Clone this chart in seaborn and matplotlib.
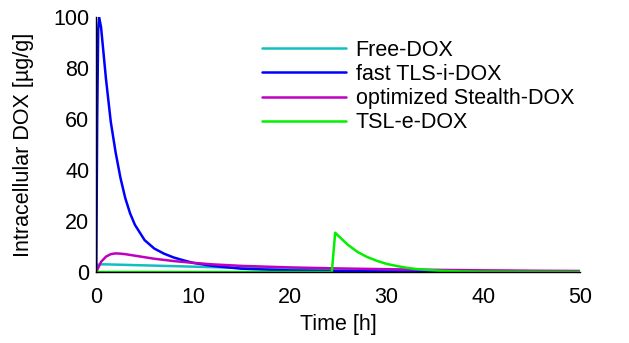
import numpy as np
import pandas as pd
import matplotlib
matplotlib.use("Agg")
import matplotlib.pyplot as plt
import seaborn as sns

# --- data ---
series_names = ["Free-DOX", "fast TLS-i-DOX", "optimized Stealth-DOX", "TSL-e-DOX"]
colors = ["#10C0C0", "#0000FF", "#C000C0", "#00F000"]

free_t = [0, 0.2, 0.5, 1, 2, 3, 5, 8, 10, 12, 15, 20, 25, 30, 35, 40, 45, 50]
free_v = [0, 2.9, 3.0, 3.0, 2.9, 2.8, 2.6, 2.3, 2.1, 1.9, 1.6, 1.2, 0.9, 0.7, 0.5, 0.4, 0.3, 0.25]

fast_t = [0, 0.1, 0.2, 0.3, 0.5, 1.0, 1.5, 2.0, 2.5, 3.0, 3.5, 4.0, 5.0, 6.0, 7.0, 8.0,
          9.0, 10, 12, 15, 20, 25, 30, 40, 50]
fast_v = [0, 60, 95, 100, 96, 76, 59, 47, 37, 29, 23, 18.5, 12.5, 9.2, 7.2, 5.7,
          4.6, 3.6, 2.4, 1.3, 0.6, 0.35, 0.2, 0.1, 0.05]

stealth_t = [0, 0.5, 1.0, 1.5, 2.0, 2.5, 3, 4, 5, 6, 8, 10, 12, 15, 20, 25, 30, 35, 40, 45, 50]
stealth_v = [0, 4, 6, 7, 7.3, 7.2, 7.0, 6.4, 5.8, 5.2, 4.3, 3.6, 3.0, 2.4, 1.8, 1.4, 1.1, 0.85, 0.65, 0.5, 0.4]

tsl_t = [0, 24.0, 24.35, 24.7, 25.0, 25.5, 26, 27, 28, 29, 30, 31, 32, 33, 34, 35, 36, 38, 40, 50]
tsl_v = [0, 0, 0, 15.4, 14.3, 12.5, 10.7, 7.9, 5.9, 4.4, 3.2, 2.4, 1.7, 1.2, 0.9, 0.6, 0.4, 0.2, 0.1, 0.0]

x_ticks = [0, 10, 20, 30, 40, 50]
y_ticks = [0, 20, 40, 60, 80, 100]

frames = []
for name, t, v in zip(series_names,
                      [free_t, fast_t, stealth_t, tsl_t],
                      [free_v, fast_v, stealth_v, tsl_v]):
    frames.append(pd.DataFrame({"Time": t, "Value": v, "Series": name}))
df = pd.concat(frames, ignore_index=True)

sns.set_style("white")
plt.rcParams["font.family"] = ["Liberation Sans", "DejaVu Sans"]
plt.rcParams["text.color"] = "black"
plt.rcParams["axes.labelcolor"] = "black"

FS = 15.5
fig = plt.figure(figsize=(6.29, 3.43), dpi=100)
ax = fig.add_axes([0.153, 0.207, 0.769, 0.743])

sns.lineplot(data=df, x="Time", y="Value", hue="Series", hue_order=series_names,
             palette=dict(zip(series_names, colors)), estimator=None, sort=False,
             linewidth=1.8, ax=ax)

ax.set_xlim(0, 50)
ax.set_ylim(0, 100)
ax.set_xticks(x_ticks)
ax.set_yticks(y_ticks)
ax.tick_params(axis="both", direction="in", length=3, width=1, labelsize=FS,
               colors="black", labelcolor="black")
ax.tick_params(axis="x", pad=11)
ax.tick_params(axis="y", pad=5)
for s in ["top", "right"]:
    ax.spines[s].set_visible(False)
for s in ["left", "bottom"]:
    ax.spines[s].set_color("black")
    ax.spines[s].set_linewidth(1.0)

ax.set_xlabel("Time [h]", fontsize=FS, labelpad=4, color="black")
ax.set_ylabel("Intracellular DOX [\u00b5g/g]", fontsize=FS, labelpad=14, color="black")

leg = ax.legend(loc="upper left", bbox_to_anchor=(0.325, 0.945), frameon=False,
                fontsize=FS, handlelength=3.9, handletextpad=0.45, labelspacing=0.15,
                borderaxespad=0)
for text in leg.get_texts():
    text.set_color("black")
for line in leg.get_lines():
    line.set_linewidth(1.8)

fig.savefig("out.png", dpi=100)
